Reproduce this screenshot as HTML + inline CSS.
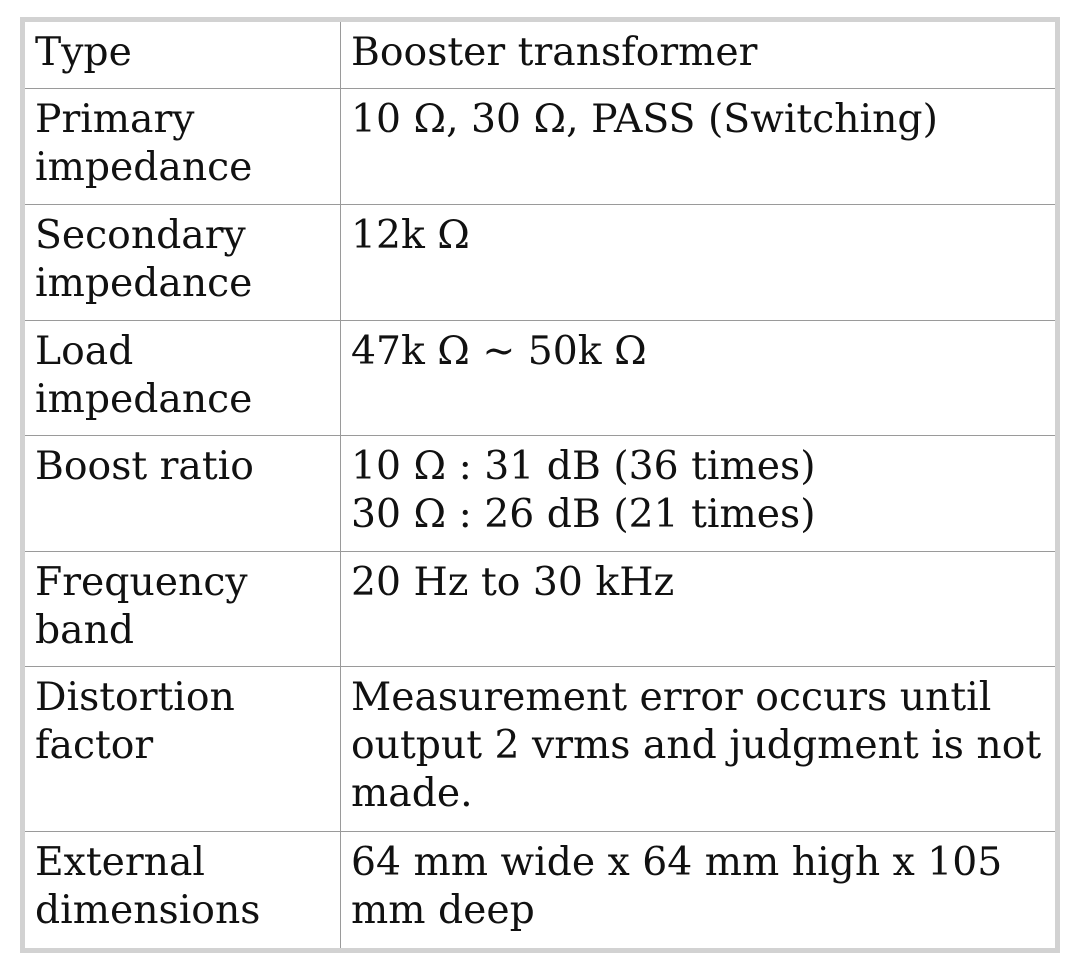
<!DOCTYPE html>
<html><head><style>
body{margin:0;background:#fff;width:1080px;height:975px;position:relative;overflow:hidden;font-family:"DejaVu Serif","Liberation Serif",serif;color:#111}
.frame{position:absolute;left:20px;top:17px;width:1030px;height:926px;border:5px solid #d2d2d2}
.h{position:absolute;left:25px;width:1030px;height:1px;background:#9a9a9a}
.v{position:absolute;left:340px;top:22px;width:1px;height:926px;background:#9a9a9a}
.t{position:absolute;font-size:39.3px;line-height:48px;white-space:nowrap}
</style></head><body>
<div class="frame"></div>
<div class="v"></div>
<div class="h" style="top:88px"></div>
<div class="h" style="top:204px"></div>
<div class="h" style="top:320px"></div>
<div class="h" style="top:435px"></div>
<div class="h" style="top:551px"></div>
<div class="h" style="top:666px"></div>
<div class="h" style="top:831px"></div>
<div class="t" style="left:35px;top:29px">Type</div>
<div class="t" style="left:351px;top:29px">Booster transformer</div>
<div class="t" style="left:35px;top:96px">Primary<br>impedance</div>
<div class="t" style="left:351px;top:96px">10 Ω, 30 Ω, PASS (Switching)</div>
<div class="t" style="left:35px;top:212px">Secondary<br>impedance</div>
<div class="t" style="left:351px;top:212px">12k Ω</div>
<div class="t" style="left:35px;top:328px">Load<br>impedance</div>
<div class="t" style="left:351px;top:328px">47k Ω ~ 50k Ω</div>
<div class="t" style="left:35px;top:443px">Boost ratio</div>
<div class="t" style="left:351px;top:443px">10 Ω : 31 dB (36 times)<br>30 Ω : 26 dB (21 times)</div>
<div class="t" style="left:35px;top:559px">Frequency<br>band</div>
<div class="t" style="left:351px;top:559px">20 Hz to 30 kHz</div>
<div class="t" style="left:35px;top:674px">Distortion<br>factor</div>
<div class="t" style="left:351px;top:674px">Measurement error occurs until<br>output 2 vrms and judgment is not<br>made.</div>
<div class="t" style="left:35px;top:839px">External<br>dimensions</div>
<div class="t" style="left:351px;top:839px">64 mm wide x 64 mm high x 105<br>mm deep</div>
</body></html>
